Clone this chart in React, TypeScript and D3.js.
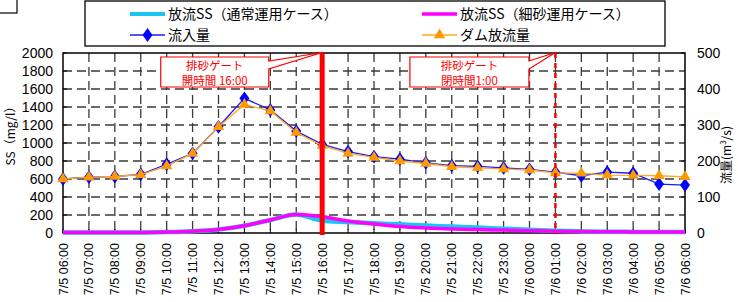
import React, { useEffect, useRef } from 'react';
import * as d3 from 'd3';

// time axis (1 hour steps)
const categories = [
  '7/5 06:00', '7/5 07:00', '7/5 08:00', '7/5 09:00', '7/5 10:00', '7/5 11:00',
  '7/5 12:00', '7/5 13:00', '7/5 14:00', '7/5 15:00', '7/5 16:00', '7/5 17:00',
  '7/5 18:00', '7/5 19:00', '7/5 20:00', '7/5 21:00', '7/5 22:00', '7/5 23:00',
  '7/6 00:00', '7/6 01:00', '7/6 02:00', '7/6 03:00', '7/6 04:00', '7/6 05:00',
  '7/6 06:00',
];

// SS (mg/l), left axis
const ssNormal = [5, 5, 5, 5, 10, 20, 40, 80, 145, 205, 137, 122, 107, 96, 82, 72, 60, 48, 36, 25, 18, 14, 12, 10, 10];
const ssFine = [5, 5, 5, 5, 10, 20, 40, 80, 145, 205, 181, 133, 100, 72, 56, 45, 38, 32, 26, 20, 16, 14, 12, 10, 10];

// discharge (m3/s), right axis
const inflow = [150, 155, 157, 163, 191, 221, 295, 374, 342, 283, 246, 226, 212, 205, 195, 187, 185, 181, 177, 169, 159, 169, 166, 136, 133];
const outflow = [150, 155, 157, 162, 186, 221, 295, 357, 339, 279, 243, 221, 210, 200, 193, 184, 181, 178, 175, 167, 166, 161, 160, 159, 156];

const leftTicks = [0, 200, 400, 600, 800, 1000, 1200, 1400, 1600, 1800, 2000];
const rightTicks = [0, 100, 200, 300, 400, 500];

const gateOpen = '7/5 16:00';
const gateClose = '7/6 01:00';

const JP = '"Noto Sans CJK JP", "Noto Sans", sans-serif';
const NUM = '"Liberation Sans", Arial, sans-serif';

const App = () => {
  const svgRef = useRef<SVGSVGElement>(null);

  useEffect(() => {
    const W = 738;
    const H = 302;
    const margin = { top: 53, right: 53, bottom: 69, left: 63 };
    const width = W - margin.left - margin.right;
    const height = H - margin.top - margin.bottom;

    const root = d3.select(svgRef.current);
    root.selectAll('*').remove();
    root.attr('width', W).attr('height', H);

    // outer chart border, mostly off-canvas
    root.append('rect')
      .attr('x', -20).attr('y', -20).attr('width', 37).attr('height', 33)
      .attr('fill', 'none').attr('stroke', '#000').attr('stroke-width', 1.2);

    const svg = root.append('g').attr('transform', `translate(${margin.left},${margin.top})`);

    const x = d3.scalePoint().domain(categories).range([0, width]);
    const yL = d3.scaleLinear().domain([0, 2000]).range([height, 0]);
    const yR = d3.scaleLinear().domain([0, 500]).range([height, 0]);

    // grid
    svg.append('g').selectAll('line.h')
      .data(leftTicks.slice(1, -1))
      .enter().append('line')
      .attr('x1', 0).attr('x2', width)
      .attr('y1', d => yL(d)).attr('y2', d => yL(d))
      .attr('stroke', '#3a3a3a').attr('stroke-width', 1.3).attr('stroke-dasharray', '9,5');
    svg.append('g').selectAll('line.v')
      .data(categories.slice(1, -1))
      .enter().append('line')
      .attr('x1', d => x(d)!).attr('x2', d => x(d)!)
      .attr('y1', 0).attr('y2', height)
      .attr('stroke', '#3a3a3a').attr('stroke-width', 1.3).attr('stroke-dasharray', '9,5');

    // inner ticks
    svg.append('g').selectAll('line')
      .data(categories)
      .enter().append('line')
      .attr('x1', d => x(d)!).attr('x2', d => x(d)!)
      .attr('y1', height).attr('y2', height - 4)
      .attr('stroke', '#000');
    svg.append('g').selectAll('line')
      .data(leftTicks)
      .enter().append('line')
      .attr('x1', 0).attr('x2', 4)
      .attr('y1', d => yL(d)).attr('y2', d => yL(d))
      .attr('stroke', '#000');
    svg.append('g').selectAll('line')
      .data(rightTicks)
      .enter().append('line')
      .attr('x1', width).attr('x2', width - 4)
      .attr('y1', d => yR(d)).attr('y2', d => yR(d))
      .attr('stroke', '#000');

    // frame
    svg.append('rect')
      .attr('width', width).attr('height', height)
      .attr('fill', 'none').attr('stroke', '#000').attr('stroke-width', 1.5);

    // tick labels
    svg.append('g').selectAll('text')
      .data(leftTicks)
      .enter().append('text')
      .attr('x', -10).attr('y', d => yL(d))
      .attr('dy', '0.36em')
      .attr('text-anchor', 'end')
      .style('font-family', NUM).style('font-size', '14px')
      .text(d => d);
    svg.append('g').selectAll('text')
      .data(rightTicks)
      .enter().append('text')
      .attr('x', width + 12).attr('y', d => yR(d))
      .attr('dy', '0.36em')
      .style('font-family', NUM).style('font-size', '14px')
      .text(d => d);
    svg.append('g').selectAll('text')
      .data(categories)
      .enter().append('text')
      .attr('transform', d => `translate(${x(d)},${height + 10}) rotate(-90)`)
      .attr('text-anchor', 'end')
      .attr('dy', '0.36em')
      .style('font-family', NUM).style('font-size', '12.5px')
      .text(d => d);

    // axis titles
    svg.append('text')
      .attr('transform', `translate(${-48},${height / 2 - 10}) rotate(-90)`)
      .attr('text-anchor', 'middle')
      .style('font-family', JP).style('font-size', '12px')
      .text('SS（mg/l）');
    const rt = svg.append('text')
      .attr('transform', `translate(${width + 46},${height / 2 + 12}) rotate(-90)`)
      .attr('text-anchor', 'middle')
      .style('font-family', JP).style('font-size', '12px');
    rt.append('tspan').text('流量(m');
    rt.append('tspan').attr('dy', -5).style('font-size', '8px').text('3');
    rt.append('tspan').attr('dy', 5).text('/s)');

    // SS lines
    const ssLine = d3.line<number>()
      .x((_, i) => x(categories[i])!)
      .y(d => yL(d))
      .curve(d3.curveMonotoneX);
    svg.append('path').datum(ssNormal)
      .attr('d', ssLine).attr('fill', 'none')
      .attr('stroke', '#19c6f2').attr('stroke-width', 4.5);
    svg.append('path').datum(ssFine)
      .attr('d', ssLine).attr('fill', 'none')
      .attr('stroke', '#ff00ff').attr('stroke-width', 3.5);

    // discharge lines
    const qLine = d3.line<number>()
      .x((_, i) => x(categories[i])!)
      .y(d => yR(d));
    svg.append('path').datum(inflow)
      .attr('d', qLine).attr('fill', 'none')
      .attr('stroke', '#1a1aff').attr('stroke-width', 1.3);
    svg.append('g').selectAll('path')
      .data(inflow)
      .enter().append('path')
      .attr('d', d3.symbol(d3.symbolDiamond, 55))
      .attr('transform', (d, i) => `translate(${x(categories[i])},${yR(d)}) scale(1.25,1)`)
      .attr('fill', '#0000ff');
    svg.append('path').datum(outflow)
      .attr('d', qLine).attr('fill', 'none')
      .attr('stroke', '#ffa726').attr('stroke-width', 1.3);
    svg.append('g').selectAll('path')
      .data(outflow)
      .enter().append('path')
      .attr('d', d3.symbol(d3.symbolTriangle, 55))
      .attr('transform', (d, i) => `translate(${x(categories[i])},${yR(d)})`)
      .attr('fill', '#ff9900');

    // gate lines
    svg.append('line')
      .attr('x1', x(gateOpen)!).attr('x2', x(gateOpen)!)
      .attr('y1', 0).attr('y2', height + 2)
      .attr('stroke', '#ff0000').attr('stroke-width', 5);
    svg.append('line')
      .attr('x1', x(gateClose)!).attr('x2', x(gateClose)!)
      .attr('y1', 0).attr('y2', height + 1)
      .attr('stroke', '#ff0000').attr('stroke-width', 2.5).attr('stroke-dasharray', '5,5');

    // callouts
    const callout = (bx: number, by: number, bw: number, bh: number, ax: number, lines: string[]) => {
      const r = bx + bw;
      svg.append('path')
        .attr('d', `M${bx},${by} H${r} V${by + 4} L${ax},${-0.5} L${r},${by + 12} V${by + bh} H${bx} Z`)
        .attr('fill', '#fff').attr('stroke', '#ff0000').attr('stroke-width', 1.2);
      lines.forEach((t, i) => {
        svg.append('text')
          .attr('x', bx + bw / 2).attr('y', by + 13 + i * 15)
          .attr('text-anchor', 'middle')
          .attr('fill', '#ff0000')
          .style('font-family', JP).style('font-size', '11.5px')
          .text(t);
      });
    };
    callout(x(categories[3])! + 20, 4, 108, 30, x(gateOpen)!, ['排砂ゲート', '開時間 16:00']);
    callout(x(categories[13])! + 10, 4, 119, 30, x(gateClose)!, ['排砂ゲート', '閉時間1:00']);

    // legend
    const lg = root.append('g');
    lg.append('rect')
      .attr('x', 85).attr('y', 1).attr('width', 580).attr('height', 45)
      .attr('fill', '#fff').attr('stroke', '#000').attr('stroke-width', 1.3);
    const items = [
      { label: '放流SS（通常運用ケース）', color: '#19c6f2', w: 4, sym: null, lx: 130, ly: 14 },
      { label: '放流SS（細砂運用ケース）', color: '#ff00ff', w: 3.5, sym: null, lx: 422, ly: 14 },
      { label: '流入量', color: '#1a1aff', w: 1.3, sym: d3.symbolDiamond, lx: 130, ly: 35 },
      { label: 'ダム放流量', color: '#ffa726', w: 1.3, sym: d3.symbolTriangle, lx: 422, ly: 35 },
    ];
    items.forEach(it => {
      lg.append('line')
        .attr('x1', it.lx).attr('x2', it.lx + 35)
        .attr('y1', it.ly).attr('y2', it.ly)
        .attr('stroke', it.color).attr('stroke-width', it.w);
      if (it.sym) {
        const isD = it.sym === d3.symbolDiamond;
        lg.append('path')
          .attr('d', d3.symbol(it.sym, 55))
          .attr('transform', `translate(${it.lx + 17.5},${it.ly})${isD ? ' scale(1.25,1)' : ''}`)
          .attr('fill', isD ? '#0000ff' : '#ff9900');
      }
      lg.append('text')
        .attr('x', it.lx + 38).attr('y', it.ly)
        .attr('dy', '0.36em')
        .style('font-family', JP).style('font-size', '14px')
        .text(it.label);
    });
  }, []);

  return <svg ref={svgRef} style={{ position: 'absolute', left: 0, top: 0, background: '#fff' }}></svg>;
};

export default App;
